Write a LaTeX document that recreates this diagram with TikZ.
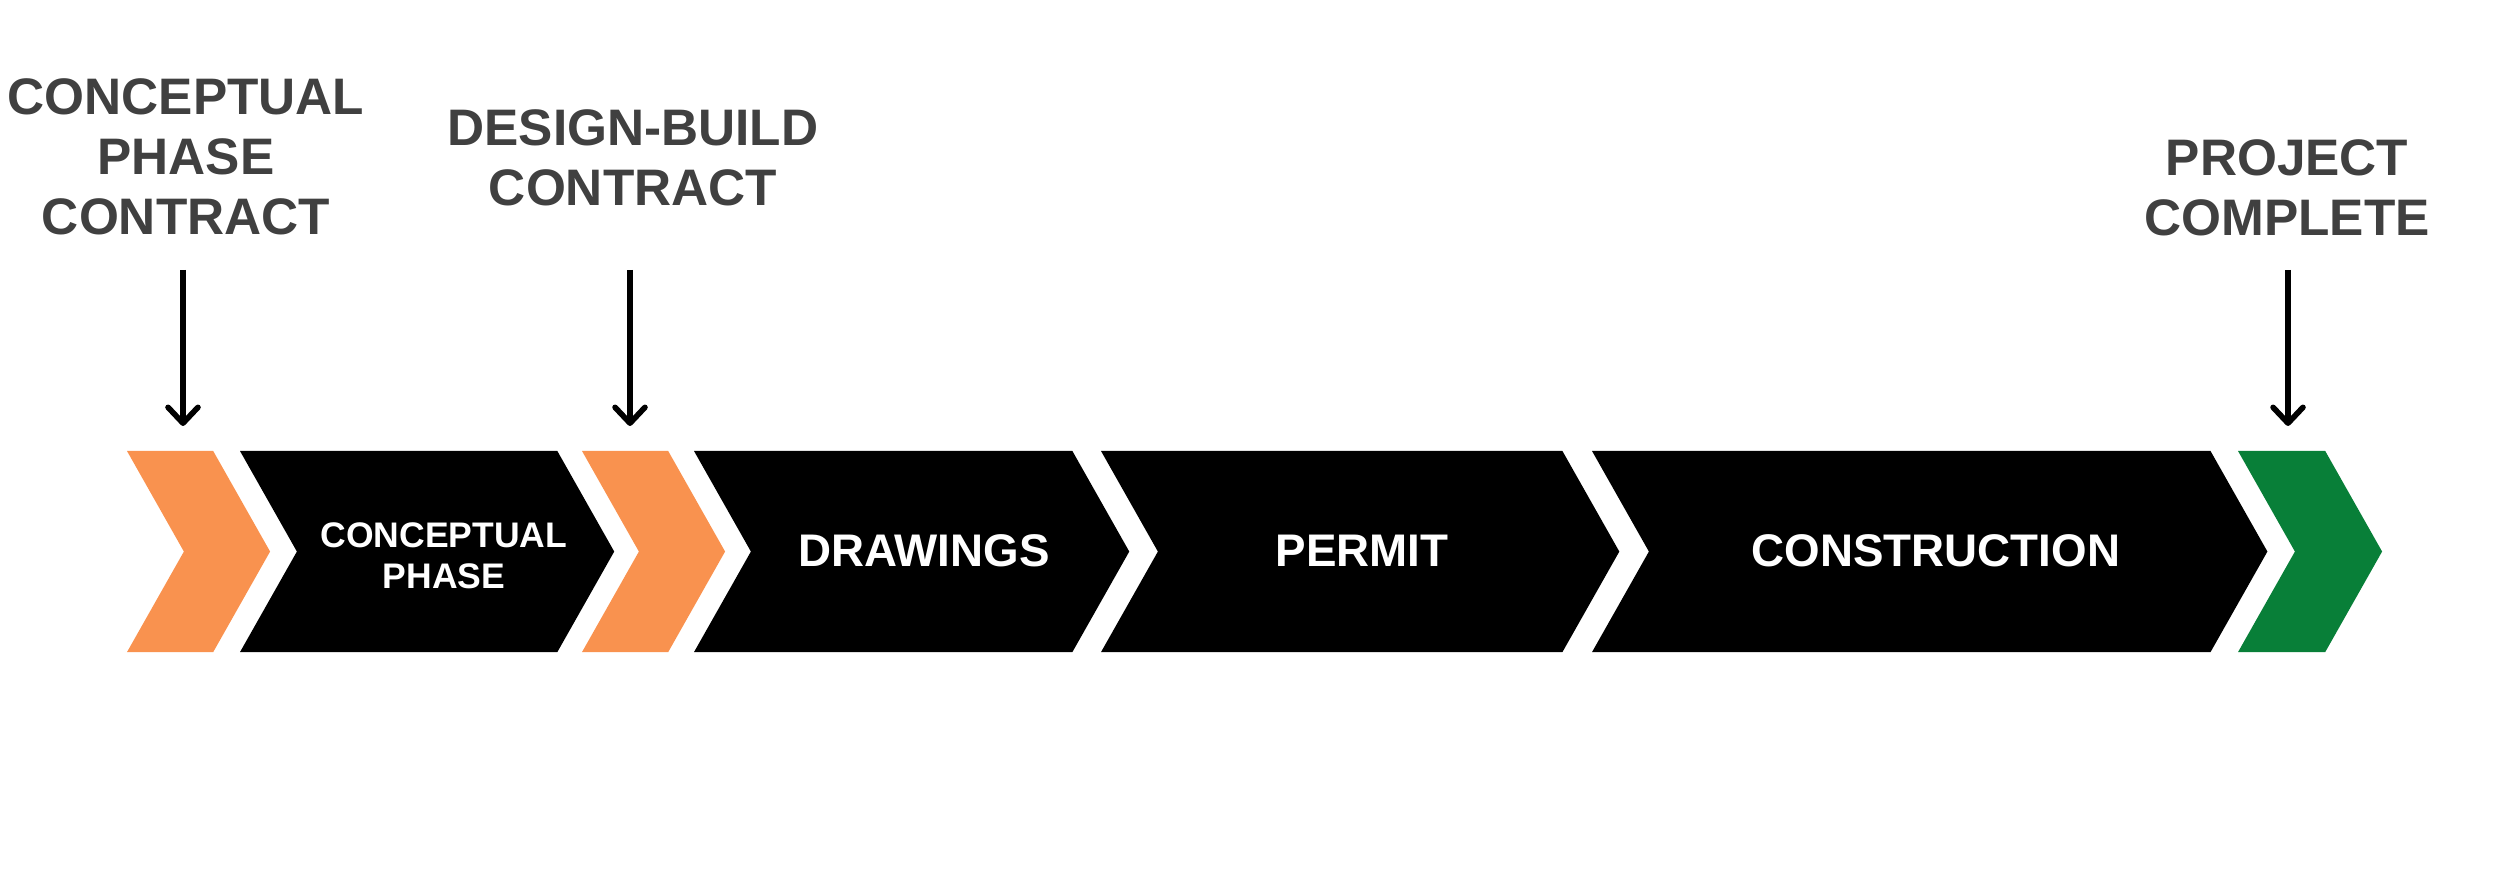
\documentclass[tikz,border=0pt]{standalone}
\usepackage{fontspec}
\setmainfont{Liberation Sans}
\usepackage{tikz}
\usetikzlibrary{arrows.meta,positioning,shapes.symbols}
\definecolor{ink}{HTML}{404040}
\definecolor{amber}{HTML}{F9924F}
\definecolor{forest}{HTML}{087F38}

\begin{document}
\begin{tikzpicture}[
  x=0.01cm, y=-0.01cm,
  font=\bfseries,
  stage/.style={signal, signal from=west, signal to=east, signal pointer angle=121, minimum height=2.01cm, inner sep=0pt, outer sep=0pt, anchor=north west, fill=black},
  milestone/.style={stage, fill=amber},
  finish/.style={stage, fill=forest},
  tag/.style={text=ink, align=center, inner sep=0pt, font=\bfseries\fontsize{14.6}{17.1}\selectfont},
  stagetext/.style={text=white, align=center, inner sep=0pt, font=\bfseries\fontsize{13}{15}\selectfont},
  arrow/.style={-{Straight Barb[length=4.5pt,width=8.5pt,round]}, line width=1.6pt, shorten >=0.25cm}
]
  \useasboundingbox (0,0) rectangle (2494,895);

  % chevron row
  \node[milestone, minimum width=1.43cm] (cpcontract) at (127,451) {};
  \node[stage, minimum width=3.74cm] (concept) at (240,451) {};
  \node[milestone, minimum width=1.43cm] (dbcontract) at (582,451) {};
  \node[stage, minimum width=4.35cm] (drawings) at (694,451) {};
  \node[stage, minimum width=5.18cm] (permit) at (1101,451) {};
  \node[stage, minimum width=6.75cm] (build) at (1592,451) {};
  \node[finish, minimum width=1.44cm] (complete) at (2238,451) {};

  \node[stagetext, font=\bfseries\fontsize{10.1}{11.7}\selectfont] (concepttxt) at (444,556) {CONCEPTUAL\\PHASE};
  \node[stagetext] (drawingstxt) at (924,551) {DRAWINGS};
  \node[stagetext] (permittxt) at (1362,551) {PERMIT};
  \node[stagetext] (buildtxt) at (1936,551) {CONSTRUCTION};

  % milestones above
  \node[tag] (cplabel) at (186,157) {CONCEPTUAL\\PHASE\\CONTRACT};
  \node[tag] (dblabel) at (633,158) {DESIGN-BUILD\\CONTRACT};
  \node[tag] (donelabel) at (2287,188) {PROJECT\\COMPLETE};

  \coordinate (cppin) at (183,270);
  \coordinate (dbpin) at (630,270);
  \coordinate (donepin) at (2288,270);

  \draw[arrow] (cppin) -- (cppin |- cpcontract.north);
  \draw[arrow] (dbpin) -- (dbpin |- dbcontract.north);
  \draw[arrow] (donepin) -- (donepin |- complete.north);
\end{tikzpicture}
\end{document}
